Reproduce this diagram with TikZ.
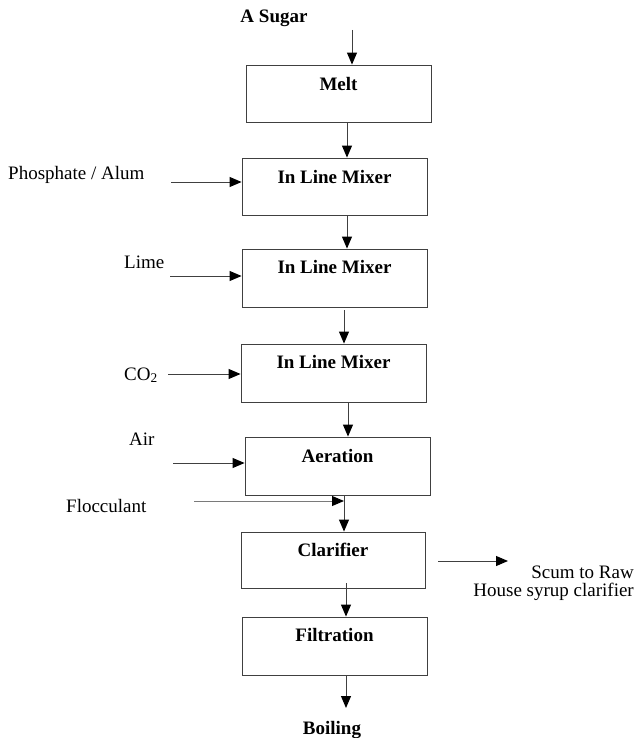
\documentclass[tikz,border=0pt]{standalone}
\usepackage{fontspec}
\setmainfont{Liberation Serif}
\usetikzlibrary{arrows.meta}
\definecolor{linegray}{HTML}{404040}
\definecolor{lightline}{HTML}{7A7A7A}
\tikzset{
  box/.style={draw=linegray, line width=0.9pt, minimum width=185pt, minimum height=57pt, inner sep=0pt},
  boxtext/.style={anchor=base, inner sep=0pt, font=\fontsize{19}{22}\selectfont\bfseries},
  plain/.style={inner sep=0pt, font=\fontsize{19}{22}\selectfont},
  boldtext/.style={inner sep=0pt, font=\fontsize{19}{22}\selectfont\bfseries},
  arr/.style={draw=linegray, line width=1pt, -{Triangle[length=12pt,width=10pt,color=black]}},
  larr/.style={draw=lightline, line width=1pt, -{Triangle[length=12pt,width=10pt,color=black]}}
}
\begin{document}
\begin{tikzpicture}[x=1pt,y=-1pt]
\useasboundingbox (0,0) rectangle (635,738);

% process boxes
\node[box] (melt) at (338.5,93.5) {};
\node[box] (mix1) at (334.5,186.5) {};
\node[box, minimum height=58pt] (mix2) at (334.5,278) {};
\node[box, minimum height=58pt] (mix3) at (333.5,373) {};
\node[box, minimum height=58pt] (aer) at (337.5,466) {};
\node[box, minimum width=184pt, minimum height=56pt] (clar) at (333,560) {};
\node[box, minimum height=58pt] (filt) at (334.5,646) {};

% box texts
\node[boxtext] (meltt) at ([yshift=-26pt]melt.north) {Melt};
\node[boxtext] (mix1t) at ([yshift=-26pt]mix1.north) {In Line Mixer};
\node[boxtext] (mix2t) at ([yshift=-25pt]mix2.north) {In Line Mixer};
\node[boxtext] (mix3t) at ([yshift=-25pt]mix3.north) {In Line Mixer};
\node[boxtext] (aert) at ([yshift=-26pt]aer.north) {Aeration};
\node[boxtext] (clart) at ([yshift=-25pt]clar.north) {Clarifier};
\node[boxtext] (filtt) at ([yshift=-25pt]filt.north) {Filtration};

% outer labels
\node[boldtext, anchor=base] (sugar) at (274,23) {A Sugar};
\node[plain, anchor=base west] (phos) at (8,179) {Phosphate / Alum};
\node[plain, anchor=base west] (lime) at (124,268) {Lime};
\node[plain, anchor=base west] (co2) at (124,380) {CO\textsubscript{2}};
\node[plain, anchor=base west] (air) at (129,445) {Air};
\node[plain, anchor=base west] (floc) at (66,512) {Flocculant};
\node[plain, anchor=base east] (scum) at (634,578) {Scum to Raw};
\node[plain, anchor=base east] (house) at (634,596) {House syrup clarifier};
\node[boldtext, anchor=base] (boil) at (332,734) {Boiling};

% free ends
\coordinate (sugarin) at (352,30);
\coordinate (phosin) at (171,182);
\coordinate (limein) at (170,276);
\coordinate (co2in) at (168,374);
\coordinate (airin) at (173,463);
\coordinate (flocin) at (194,501);
\coordinate (join) at (344,501);
\coordinate (scumout) at (438,561);
\coordinate (scumend) at (508,561);
\coordinate (boilend) at (346,708);

% main flow
\draw[arr] (sugarin) -- (sugarin |- melt.north);
\draw[arr] ([xshift=8.5pt]melt.south) -- ([xshift=8.5pt]melt.south |- mix1.north);
\draw[arr] ([xshift=12.5pt]mix1.south) -- ([xshift=12.5pt]mix1.south |- mix2.north);
\draw[arr] ([xshift=9.5pt,yshift=-3pt]mix2.south) -- ([xshift=9.5pt]mix2.south |- mix3.north);
\draw[arr] ([xshift=14.5pt]mix3.south) -- ([xshift=14.5pt]mix3.south |- aer.north);
\draw[arr] (aer.south -| join) -- (clar.north -| join);
\draw[arr] ([xshift=13pt,yshift=5pt]clar.south) -- ([xshift=13pt]clar.south |- filt.north);
\draw[arr] (filt.south -| boilend) -- (boilend);

% side inputs
\draw[arr] (phosin) -- (phosin -| mix1.west);
\draw[arr] (limein) -- (limein -| mix2.west);
\draw[arr] (co2in) -- (co2in -| mix3.west);
\draw[arr] (airin) -- (airin -| aer.west);
\draw[larr] (flocin) -- (join);
\draw[arr] (scumout) -- (scumend);
\end{tikzpicture}
\end{document}
